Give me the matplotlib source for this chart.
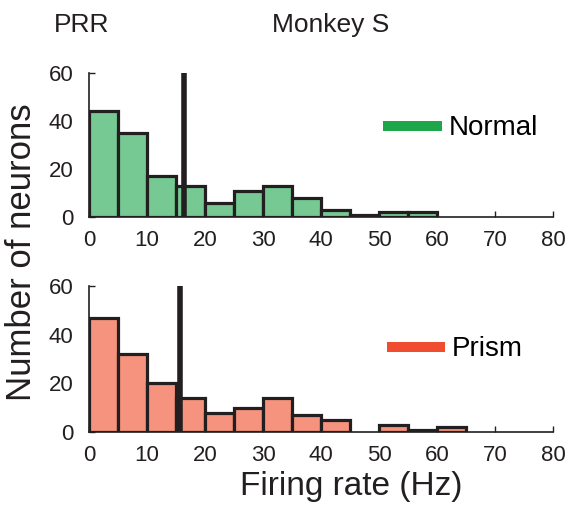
import matplotlib

matplotlib.use("Agg")
import matplotlib.pyplot as plt
import numpy as np
from matplotlib.lines import Line2D

plt.rcParams["font.family"] = ["Liberation Sans", "DejaVu Sans"]

# histogram data (bin width 5 Hz)
bin_edges = np.arange(0, 80, 5)
normal_counts = [44, 35, 17, 13, 6, 11, 13, 8, 3, 1, 2, 2, 0, 0, 0, 0]
prism_counts = [47, 32, 20, 14, 8, 10, 14, 7, 5, 0, 3, 1, 2, 0, 0, 0]
normal_median = 16.3
prism_median = 15.7
x_ticks = [0, 10, 20, 30, 40, 50, 60, 70, 80]
y_ticks = [0, 20, 40, 60]

panels = [
    ("Normal", normal_counts, normal_median, "#76c993", "#1ea64a", (0.634, 0.616)),
    ("Prism", prism_counts, prism_median, "#f5937e", "#f04d30", (0.642, 0.566)),
]

fig = plt.figure(figsize=(5.76, 5.08), dpi=100)
ax_top = fig.add_axes([0.1545, 0.5728, 0.8056, 0.2835])
ax_bot = fig.add_axes([0.1545, 0.1496, 0.8056, 0.2874])
axes = [ax_top, ax_bot]

for ax, (name, counts, med, fill, legcol, anchor) in zip(axes, panels):
    counts = np.array(counts)
    keep = counts > 0
    ax.bar(bin_edges[keep], counts[keep], width=5, align="edge",
           color=fill, edgecolor="#231f20", linewidth=2.3, zorder=2)
    ax.plot([med, med], [0, 60.5], color="#231f20", lw=4, zorder=3,
            solid_capstyle="butt")
    ax.set_xlim(0, 80)
    ax.set_ylim(0, 60)
    ax.set_xticks(x_ticks)
    ax.set_yticks(y_ticks)
    for s in ["top", "right"]:
        ax.spines[s].set_visible(False)
    for s in ["left", "bottom"]:
        ax.spines[s].set_linewidth(1.2)
        ax.spines[s].set_color("#231f20")
    ax.tick_params(direction="in", length=4, width=1.0, labelsize=16,
                   colors="#231f20")
    ax.tick_params(axis="x", pad=9)
    ax.tick_params(axis="y", pad=11)
    handle = Line2D([], [], color=legcol, lw=7.2, solid_capstyle="butt")
    ax.legend([handle], [name], loc="center left", bbox_to_anchor=anchor,
              frameon=False, fontsize=20, handlelength=2.1,
              handletextpad=0.25, borderpad=0, borderaxespad=0)

fig.text(0.038, 0.504, "Number of neurons", rotation=90, va="center",
         ha="center", fontsize=25, color="#231f20")
fig.text(0.61, 0.0256, "Firing rate (Hz)", ha="center", va="baseline",
         fontsize=24, color="#231f20")
fig.text(0.1415, 0.937, "PRR", ha="center", va="baseline", fontsize=19,
         color="#231f20")
fig.text(0.574, 0.937, "Monkey S", ha="center", va="baseline", fontsize=19,
         color="#231f20")
fig.text(-0.012, 1.012, "A", ha="left", va="center", fontsize=16,
         fontweight="bold", color="#231f20")

fig.savefig("out.png", dpi=100)
